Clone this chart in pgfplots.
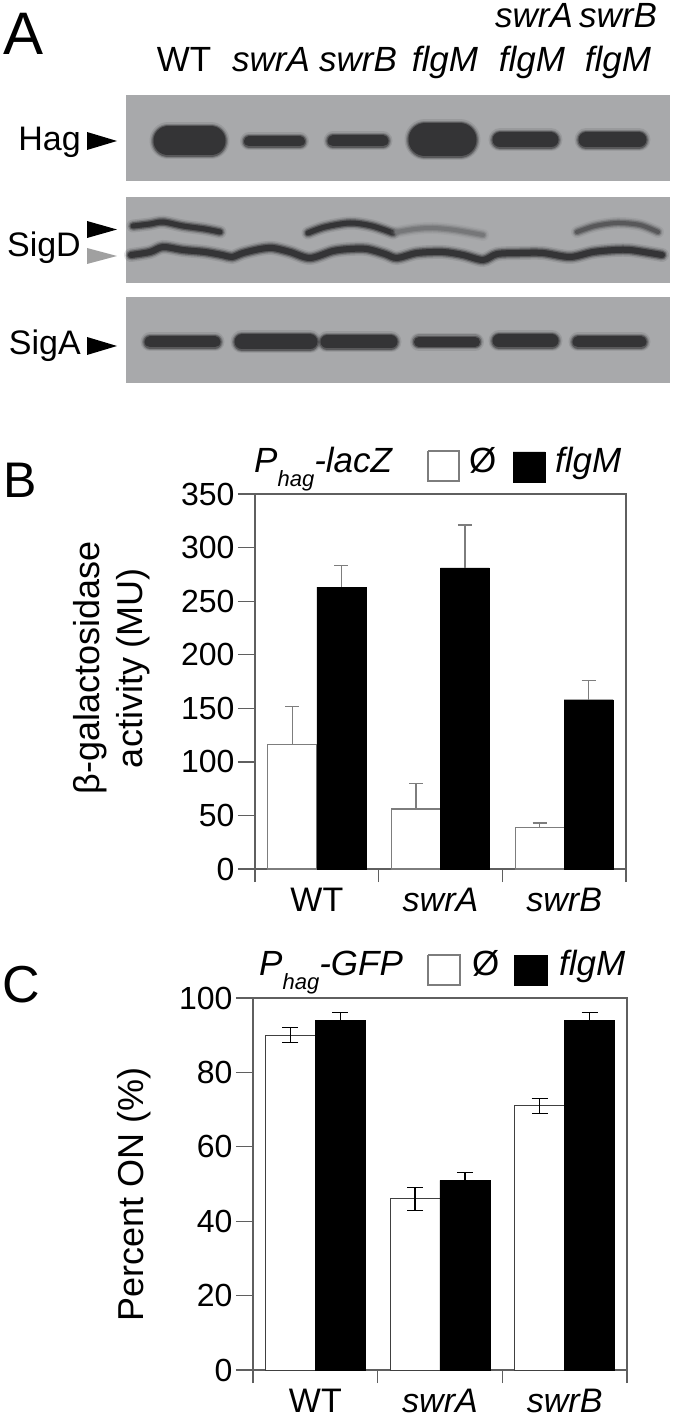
\documentclass[border=0pt]{standalone}
\usepackage{fontspec}
\setmainfont{Liberation Sans}
\usepackage{pgfplots}
\pgfplotsset{compat=1.18}
\usepackage{pgfplotstable}
\definecolor{blot}{RGB}{168,169,171}
\definecolor{band}{RGB}{52,52,54}
\definecolor{bandmid}{RGB}{88,88,90}
\definecolor{bandlight}{RGB}{118,119,121}
\definecolor{arrowgray}{RGB}{160,160,160}
\definecolor{axgray}{RGB}{95,95,95}
\definecolor{errgray}{RGB}{125,125,125}
\newcommand\fs[1]{\fontsize{#1}{#1}\selectfont}
\newcommand\band[3]{%
  \addplot[draw=#2, line width={#1pt+7pt}, opacity=0.12, line cap=round, smooth] coordinates {#3};
  \addplot[draw=#2, line width={#1pt+4pt}, opacity=0.25, line cap=round, smooth] coordinates {#3};
  \addplot[draw=#2, line width={#1pt+1.5pt}, opacity=0.5, line cap=round, smooth] coordinates {#3};
  \addplot[draw=#2, line width={#1pt-1pt}, line cap=round, smooth] coordinates {#3};
}
% Panel B data
\pgfplotstableread{
g val err
0 116 36
1 56 24
2 39 4
}\Bwhite
\pgfplotstableread{
g val err
0 263 20
1 281 40
2 158 18
}\Bblack
% Panel C data
\pgfplotstableread{
g val err
0 90 2
1 46 3
2 71 2
}\Cwhite
\pgfplotstableread{
g val err
0 94 2
1 51 2
2 94 2
}\Cblack
\pgfplotsset{
  barpanel/.style={
    scale only axis,
    xmin=-0.5, xmax=2.5, ymin=0,
    axis line style={draw=axgray, line width=1.3pt},
    every tick/.style={draw=axgray, line width=1.3pt},
    tick align=outside, xtick pos=left, ytick pos=left,
    major tick length=17pt, minor tick length=13pt,
    xtick={0,1,2}, xticklabels={WT,\textit{swrA},\textit{swrB}},
    every major x tick/.append style={draw=none},
    minor xtick={-0.5,0.5,1.5,2.5},
    xticklabel style={font=\fs{34}, anchor=base, yshift=-25pt},
    yticklabel style={font=\fs{32}},
    /pgf/number format/assume math mode=true,
    ylabel style={align=center, font=\fontsize{36}{43}\selectfont, anchor=center},
  }
}
\begin{document}
\begin{tikzpicture}
\path[use as bounding box] (0pt,-1418pt) rectangle (673pt,0pt);
% ---------- canvas for panel A and annotations ----------
\begin{axis}[at={(0pt,0pt)}, anchor=north west, scale only axis,
  width=673pt, height=1418pt, xmin=0, xmax=673, ymin=-1418, ymax=0,
  hide axis, clip=false]
  % blot backgrounds
  \addplot[fill=blot, draw=none] coordinates {(126,-95) (670,-95) (670,-181) (126,-181)};
  \addplot[fill=blot, draw=none] coordinates {(126,-197) (670,-197) (670,-283) (126,-283)};
  \addplot[fill=blot, draw=none] coordinates {(126,-297) (670,-297) (670,-383) (126,-383)};
  % Hag bands
  \band{30}{band}{(168,-141) (211,-141)}
  \band{11}{band}{(249,-141.5) (300,-141.5)}
  \band{12}{band}{(333,-141) (383,-141)}
  \band{34}{band}{(425,-140) (460,-140)}
  \band{16}{band}{(500,-140) (551,-140)}
  \band{16}{band}{(586,-140) (639,-140)}
  % SigD upper bands
  \band{6}{band}{(133,-226) (150,-224) (163,-222) (183,-226) (205,-229) (220,-232)}
  \band{6}{band}{(308,-233) (325,-227) (350,-223) (372,-226) (393,-233)}
  \band{5}{bandlight}{(397,-232) (415,-229) (433,-228) (455,-230) (483,-235)}
  \band{5}{bandmid}{(577,-232) (595,-226) (617,-223) (640,-225) (658,-232)}
  % SigD lower band
  \band{7}{band}{(131,-255) (150,-252) (163,-247) (183,-250) (205,-252) (222,-255) (232,-257) (243,-253) (260,-249) (273,-248) (290,-252) (310,-258) (333,-251) (350,-249) (367,-249) (385,-254) (397,-258) (417,-253) (443,-252) (463,-255) (483,-260) (497,-254) (520,-253) (543,-253) (570,-257) (593,-252) (615,-250) (630,-250) (650,-253) (662,-255)}
  % SigA bands
  \band{12}{band}{(150,-342) (215,-342)}
  \band{16}{band}{(242,-342) (310,-342)}
  \band{14}{band}{(327,-342) (391,-342)}
  \band{11}{band}{(419,-342) (475,-342)}
  \band{14}{band}{(499,-341) (552,-341)}
  \band{12}{band}{(578,-342) (641,-342)}
  % arrows
  \addplot[fill=black, draw=none] coordinates {(87,-132) (117,-141) (87,-150)};
  \addplot[fill=black, draw=none] coordinates {(87,-221) (117,-229.5) (87,-238)};
  \addplot[fill=arrowgray, draw=none] coordinates {(87,-248) (117,-256) (87,-264)};
  \addplot[fill=black, draw=none] coordinates {(87,-337) (117,-346) (87,-355)};
  % panel letters
  \node[anchor=base west, font=\fs{60}, inner sep=0pt] at (3,-55) {A};
  \node[anchor=base west, font=\fs{50}, inner sep=0pt] at (3,-498) {B};
  \node[anchor=base west, font=\fs{52}, inner sep=0pt] at (2,-1002) {C};
  % lane labels
  \node[anchor=base, font=\fs{35}, inner sep=0pt] at (184,-72) {WT};
  \node[anchor=base, font=\fs{35}\itshape, inner sep=0pt] at (271,-72) {swrA};
  \node[anchor=base, font=\fs{35}\itshape, inner sep=0pt] at (358,-72) {swrB};
  \node[anchor=base, font=\fs{35}\itshape, inner sep=0pt] at (445,-72) {flgM};
  \node[anchor=base, font=\fs{35}\itshape, inner sep=0pt] at (532,-72) {flgM};
  \node[anchor=base, font=\fs{35}\itshape, inner sep=0pt] at (618,-72) {flgM};
  \node[anchor=base, font=\fs{35}\itshape, inner sep=0pt] at (534,-28) {swrA};
  \node[anchor=base, font=\fs{35}\itshape, inner sep=0pt] at (618,-28) {swrB};
  % row labels
  \node[anchor=base east, font=\fs{34}, inner sep=0pt] at (81,-151) {Hag};
  \node[anchor=base east, font=\fs{34}, inner sep=0pt] at (81,-257) {SigD};
  \node[anchor=base east, font=\fs{34}, inner sep=0pt] at (81,-355) {SigA};
  % legend B
  \node[anchor=base west, font=\fs{35}\itshape, inner sep=0pt] at (254,-473) {P\raisebox{-14pt}{\fs{22}hag}-lacZ};
  \addplot[fill=white, draw=errgray, line width=1.2pt] coordinates {(428,-451) (459,-451) (459,-481) (428,-481) (428,-451)};
  \node[anchor=base west, font=\fs{35}, inner sep=0pt] at (469,-473) {Ø};
  \addplot[fill=black, draw=black] coordinates {(513,-452) (545,-452) (545,-482) (513,-482) (513,-452)};
  \node[anchor=base west, font=\fs{35}\itshape, inner sep=0pt] at (555,-473) {flgM};
  % legend C
  \node[anchor=base west, font=\fs{35}\itshape, inner sep=0pt] at (259,-975) {P\raisebox{-14pt}{\fs{22}hag}-GFP};
  \addplot[fill=white, draw=errgray, line width=1.2pt] coordinates {(428,-955) (460,-955) (460,-985) (428,-985) (428,-955)};
  \node[anchor=base west, font=\fs{35}, inner sep=0pt] at (472,-975) {Ø};
  \addplot[fill=black, draw=black] coordinates {(514,-955) (547,-955) (547,-985) (514,-985) (514,-955)};
  \node[anchor=base west, font=\fs{35}\itshape, inner sep=0pt] at (559,-975) {flgM};
\end{axis}
% ---------- panel B ----------
\begin{axis}[barpanel, at={(255pt,-869pt)}, anchor=south west,
  width=371pt, height=375pt, ymax=350, ytick={0,50,...,350},
  ylabel={β-galactosidase\\activity (MU)},
  ylabel style={at={(axis description cs:-0.385,0.536)}}]
  \addplot[ybar, bar width=49pt, bar shift=0pt, fill=white, draw=errgray, line width=1.2pt,
    error bars/.cd, y dir=plus, y explicit,
    error bar style={draw=errgray, line width=1.3pt},
    error mark options={rotate=90, mark size=7pt, line width=1.3pt, draw=errgray}]
    table[x expr=\thisrow{g}-0.198, y=val, y error=err] {\Bwhite};
  \addplot[ybar, bar width=49pt, bar shift=0pt, fill=black, draw=black,
    error bars/.cd, y dir=plus, y explicit,
    error bar style={draw=errgray, line width=1.3pt},
    error mark options={rotate=90, mark size=7pt, line width=1.3pt, draw=errgray}]
    table[x expr=\thisrow{g}+0.198, y=val, y error=err] {\Bblack};
\end{axis}
% ---------- panel C ----------
\begin{axis}[barpanel, at={(253pt,-1370pt)}, anchor=south west,
  width=374pt, height=372pt, ymax=100, ytick={0,20,...,100},
  ylabel={Percent ON (\%)},
  ylabel style={at={(axis description cs:-0.318,0.473)}}]
  \addplot[ybar, bar width=50pt, bar shift=0pt, fill=white, draw=black!75, line width=1pt,
    error bars/.cd, y dir=both, y explicit,
    error bar style={draw=black, line width=1.1pt},
    error mark options={rotate=90, mark size=8pt, line width=1.1pt, draw=black}]
    table[x expr=\thisrow{g}-0.2005, y=val, y error=err] {\Cwhite};
  \addplot[ybar, bar width=50pt, bar shift=0pt, fill=black, draw=black,
    error bars/.cd, y dir=both, y explicit,
    error bar style={draw=black, line width=1.1pt},
    error mark options={rotate=90, mark size=8pt, line width=1.1pt, draw=black}]
    table[x expr=\thisrow{g}+0.2005, y=val, y error=err] {\Cblack};
\end{axis}
\end{tikzpicture}
\end{document}
